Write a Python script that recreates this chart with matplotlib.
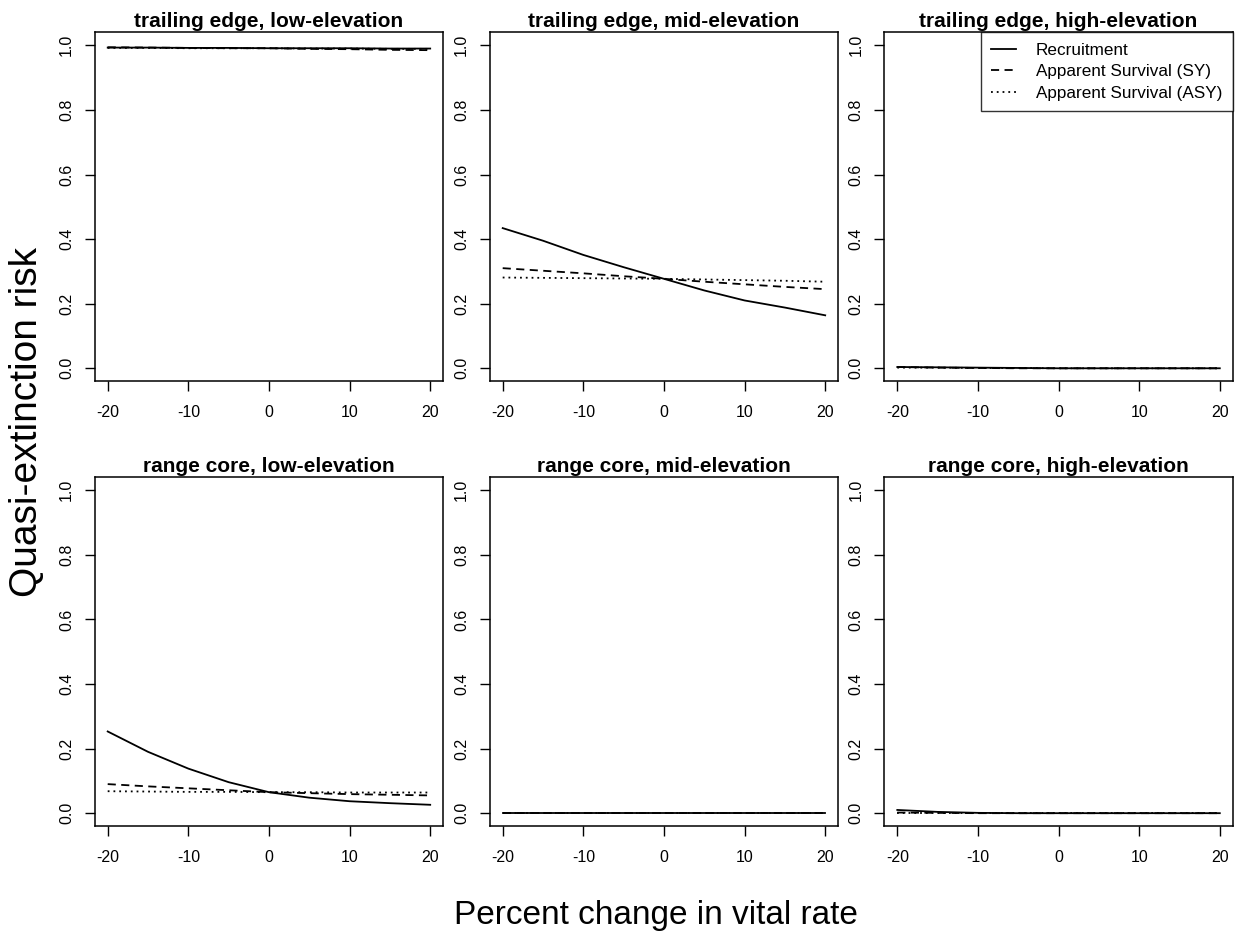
import numpy as np
import matplotlib.pyplot as plt

plt.rcParams['font.family'] = ['Liberation Sans', 'DejaVu Sans']
plt.rcParams['axes.unicode_minus'] = False

# Percent change applied to each vital rate
pct_change = [-20, -15, -10, -5, 0, 5, 10, 15, 20]

titles = [
    "trailing edge, low-elevation", "trailing edge, mid-elevation", "trailing edge, high-elevation",
    "range core, low-elevation", "range core, mid-elevation", "range core, high-elevation",
]

# Quasi-extinction risk per population, one list per vital rate
recruitment = [
    [0.993, 0.993, 0.992, 0.992, 0.991, 0.991, 0.991, 0.990, 0.990],
    [0.434, 0.395, 0.351, 0.313, 0.277, 0.241, 0.210, 0.188, 0.164],
    [0.004, 0.003, 0.002, 0.001, 0.000, 0.000, 0.000, 0.000, 0.000],
    [0.253, 0.190, 0.138, 0.096, 0.065, 0.048, 0.037, 0.031, 0.026],
    [0.000, 0.000, 0.000, 0.000, 0.000, 0.000, 0.000, 0.000, 0.000],
    [0.010, 0.004, 0.001, 0.000, 0.000, 0.000, 0.000, 0.000, 0.000],
]
survival_sy = [
    [0.994, 0.993, 0.992, 0.991, 0.991, 0.989, 0.988, 0.986, 0.985],
    [0.310, 0.302, 0.294, 0.285, 0.277, 0.268, 0.260, 0.252, 0.245],
    [0.004, 0.002, 0.001, 0.000, 0.000, 0.000, 0.000, 0.000, 0.000],
    [0.090, 0.083, 0.077, 0.071, 0.065, 0.062, 0.059, 0.057, 0.055],
    [0.000, 0.000, 0.000, 0.000, 0.000, 0.000, 0.000, 0.000, 0.000],
    [0.002, 0.001, 0.000, 0.000, 0.000, 0.000, 0.000, 0.000, 0.000],
]
survival_asy = [
    [0.992, 0.992, 0.991, 0.991, 0.991, 0.990, 0.990, 0.989, 0.989],
    [0.281, 0.280, 0.279, 0.278, 0.277, 0.275, 0.273, 0.271, 0.268],
    [0.002, 0.002, 0.001, 0.001, 0.000, 0.000, 0.000, 0.000, 0.000],
    [0.068, 0.067, 0.066, 0.066, 0.065, 0.065, 0.064, 0.064, 0.064],
    [0.000, 0.000, 0.000, 0.000, 0.000, 0.000, 0.000, 0.000, 0.000],
    [0.000, 0.000, 0.000, 0.000, 0.000, 0.000, 0.000, 0.000, 0.000],
]

W, H = 1238, 934
fig = plt.figure(figsize=(W / 100, H / 100), dpi=100)

col_left = [94.8, 489.8, 884.4]
row_top = [32.4, 477.3]
box_w, box_h = 348.3, 348.8

for i in range(6):
    r, c = divmod(i, 3)
    ax = fig.add_axes([col_left[c] / W, 1 - (row_top[r] + box_h) / H, box_w / W, box_h / H])
    ax.plot(pct_change, recruitment[i], color='black', lw=1.3, ls='-', label='Recruitment')
    ax.plot(pct_change, survival_sy[i], color='black', lw=1.3, dashes=(4.5, 3),
            label='Apparent Survival (SY)')
    ax.plot(pct_change, survival_asy[i], color='black', lw=1.3, dashes=(1, 2.2),
            label='Apparent Survival (ASY)')
    ax.set_xlim(-21.6, 21.6)
    ax.set_ylim(-0.04, 1.04)
    ax.set_xticks([-20, -10, 0, 10, 20])
    ax.set_yticks([0.0, 0.2, 0.4, 0.6, 0.8, 1.0])
    ax.set_yticklabels(['0.0', '0.2', '0.4', '0.6', '0.8', '1.0'], rotation=90, va='center')
    ax.tick_params(length=7, width=1, labelsize=11.5, color='black')
    ax.tick_params(axis='x', pad=10)
    ax.tick_params(axis='y', pad=8)
    for s in ax.spines.values():
        s.set_linewidth(1.1)
    ax.set_title(titles[i], fontsize=15, fontweight='bold', pad=4)
    if i == 2:
        leg = ax.legend(loc='upper right', fontsize=12.3, frameon=True, fancybox=False,
                        borderaxespad=0, handlelength=1.45, borderpad=0.6,
                        labelspacing=0.38, handletextpad=1.2)
        leg.get_frame().set_edgecolor('black')
        leg.get_frame().set_linewidth(1.0)

fig.text(27 / W, 1 - 422 / H, 'Quasi-extinction risk', rotation=90, ha='center', va='center',
         fontsize=28)
fig.text(0.5 * (453 + 858) / W, 1 - 924 / H, 'Percent change in vital rate', ha='center',
         va='baseline', fontsize=24)

fig.savefig('out.png', dpi=100)
